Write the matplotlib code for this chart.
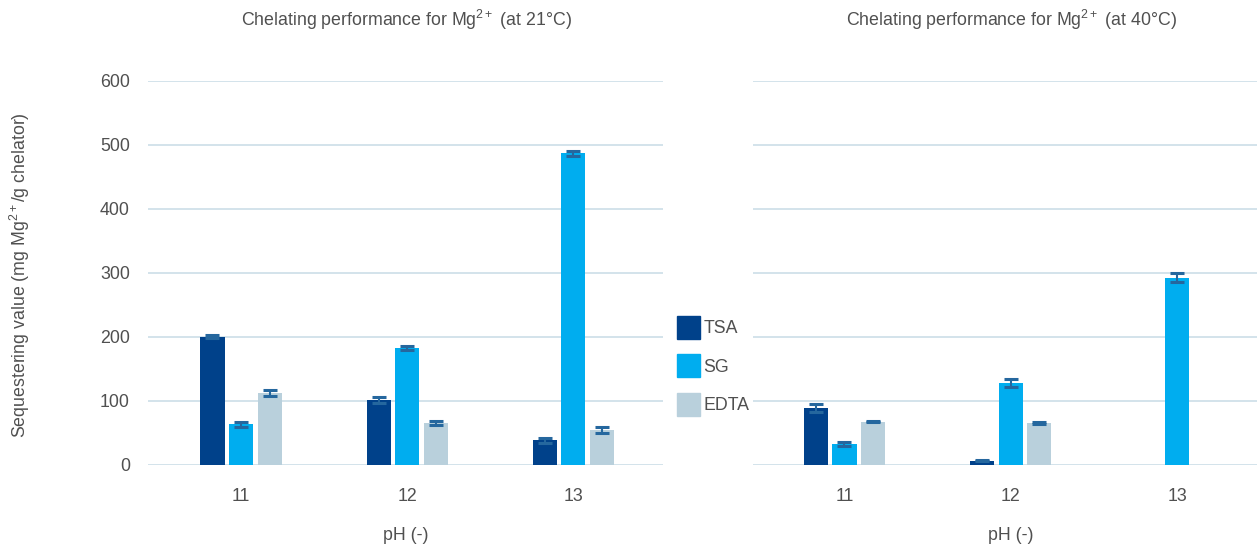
import numpy as np
import matplotlib.pyplot as plt
from matplotlib.patches import Patch

# data
ph_labels = ['11', '12', '13']
series = ['TSA', 'SG', 'EDTA']
colors = ['#00418a', '#00adef', '#b9d0dc']

tsa_21 = [200, 101, 38]
sg_21 = [63, 182, 486]
edta_21 = [112, 65, 54]
tsa_21_err = [2, 4, 4]
sg_21_err = [4, 3, 4]
edta_21_err = [4, 3, 5]

tsa_40 = [89, 6, 0]
sg_40 = [32, 128, 292]
edta_40 = [67, 65, 0]
tsa_40_err = [6, 1, np.nan]
sg_40_err = [3, 6, 7]
edta_40_err = [1, 1, np.nan]

plt.rcParams['font.family'] = ['Liberation Sans', 'DejaVu Sans']
plt.rcParams['mathtext.fontset'] = 'custom'
plt.rcParams['mathtext.rm'] = 'Liberation Sans'
plt.rcParams['mathtext.it'] = 'Liberation Sans'
txt_color = '#505050'
grid_color = '#c8dbe5'
err_color = '#25679e'
fs = 12.8

fig = plt.figure(figsize=(12.57, 5.44), dpi=100)
ax1 = fig.add_axes([148/1257, 1-464.7/544, 515/1257, 384.2/544])
ax2 = fig.add_axes([753/1257, 1-464.7/544, 504/1257, 384.2/544])

x = np.arange(len(ph_labels))
step = 0.172
width = 0.145


def draw(ax, vals, errs, xlim):
    for i, (v, e, c) in enumerate(zip(vals, errs, colors)):
        pos = x + (i - 1) * step
        ax.bar(pos, v, width, color=c, zorder=3)
        ax.errorbar(pos, v, yerr=e, fmt='none', ecolor=err_color,
                    elinewidth=1.5, capsize=5, capthick=2.2, zorder=4)
    ax.set_ylim(0, 600)
    ax.set_xlim(*xlim)
    ax.set_yticks(range(0, 601, 100))
    ax.grid(axis='y', color=grid_color, lw=1.1, zorder=0)
    ax.set_xticks(x)
    ax.set_xticklabels(ph_labels)
    ax.tick_params(length=0, labelsize=fs, colors=txt_color, pad=17)
    for s in ax.spines.values():
        s.set_visible(False)


draw(ax1, [tsa_21, sg_21, edta_21], [tsa_21_err, sg_21_err, edta_21_err], (-0.56, 2.54))
draw(ax2, [tsa_40, sg_40, edta_40], [tsa_40_err, sg_40_err, edta_40_err], (-0.55, 2.48))
ax1.tick_params(axis='y', pad=13)
ax2.set_yticklabels([])

fig.text(406/1257, 1-20/544, r'Chelating performance for Mg$^{2+}$ (at 21°C)',
         ha='center', va='center', fontsize=fs, color=txt_color)
fig.text(1011/1257, 1-20/544, r'Chelating performance for Mg$^{2+}$ (at 40°C)',
         ha='center', va='center', fontsize=fs, color=txt_color)
fig.text(406/1257, 1-536/544, 'pH (-)', ha='center', va='center', fontsize=fs, color=txt_color)
fig.text(1011/1257, 1-536/544, 'pH (-)', ha='center', va='center', fontsize=fs, color=txt_color)
fig.text(20/1257, 1-275/544, r'Sequestering value (mg Mg$^{2+}$/g chelator)',
         ha='center', va='center', rotation=90, fontsize=fs, color=txt_color)

handles = [Patch(color=c, label=s) for c, s in zip(colors, series)]
fig.legend(handles=handles, loc='upper left', bbox_to_anchor=(677/1257, 1-316/544),
           frameon=False, fontsize=fs, handlelength=1.3, handleheight=1.6,
           handletextpad=0.2, labelspacing=0.88, borderpad=0, borderaxespad=0,
           labelcolor=txt_color)

fig.savefig('out.png', dpi=100)
